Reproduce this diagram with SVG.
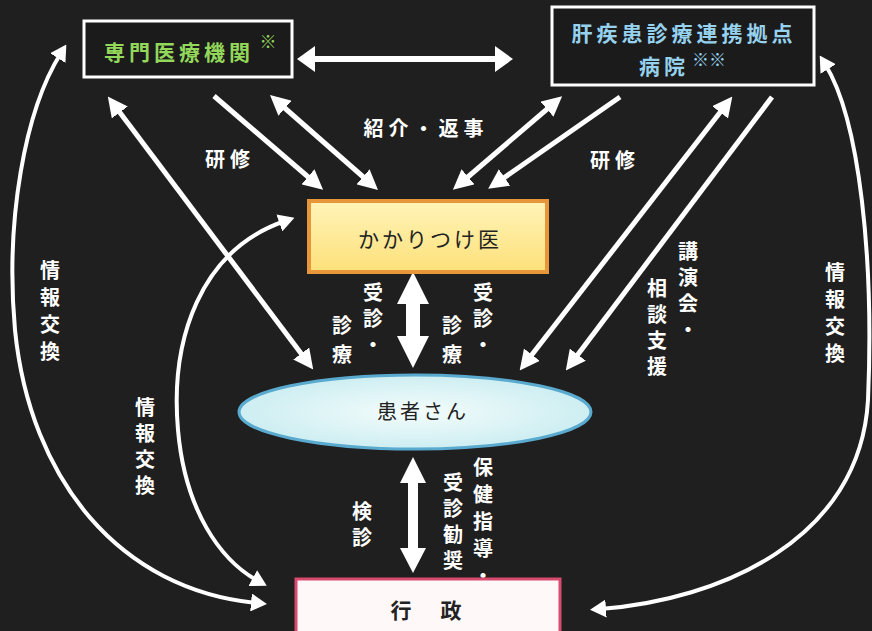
<svg xmlns="http://www.w3.org/2000/svg" width="872" height="631" viewBox="0 0 872 631">
<style>
.t{font-family:"Noto Sans CJK JP","Noto Sans",sans-serif;text-anchor:middle}
.lbl{font-size:20px;font-weight:bold;fill:#fff}
.v{font-family:"Noto Sans CJK JP","Noto Sans",sans-serif;font-size:20px;font-weight:bold;fill:#fff;writing-mode:vertical-rl;text-anchor:start;letter-spacing:6px}
.ln{stroke:#fff;fill:none}
.d{stroke-width:5}
.c{stroke-width:4}
</style>
<defs>
<marker id="ah" viewBox="0 0 20 20" refX="8" refY="10" markerWidth="20" markerHeight="20" markerUnits="userSpaceOnUse" orient="auto-start-reverse"><path d="M0,0 L20,10 L0,20 z" fill="#fff"/></marker>
<marker id="ahw" viewBox="0 0 18 26" refX="6" refY="13" markerWidth="18" markerHeight="26" markerUnits="userSpaceOnUse" orient="auto-start-reverse"><path d="M0,0 L18,13 L0,26 z" fill="#fff"/></marker>
<marker id="ahc" viewBox="0 0 16 18" refX="6" refY="9" markerWidth="16" markerHeight="18" markerUnits="userSpaceOnUse" orient="auto-start-reverse"><path d="M0,0 L16,9 L0,18 z" fill="#fff"/></marker>
<linearGradient id="yel" x1="0" y1="0" x2="0" y2="1"><stop offset="0" stop-color="#fff4b8"/><stop offset="1" stop-color="#fde07a"/></linearGradient>
<radialGradient id="cy" cx="0.5" cy="0.5" r="0.5"><stop offset="0" stop-color="#f4fcfb"/><stop offset="1" stop-color="#cdeef2"/></radialGradient>
</defs>
<rect x="0" y="0" width="872" height="631" fill="#1f1f1f"/>

<g id="connectors">
<line class="ln" x1="309" y1="59" x2="501" y2="59" stroke-width="6" marker-start="url(#ahw)" marker-end="url(#ahw)"/>
<line class="ln d" x1="214" y1="96" x2="314" y2="182" marker-end="url(#ah)"/>
<line class="ln d" x1="279" y1="103" x2="369" y2="182" marker-start="url(#ah)" marker-end="url(#ah)"/>
<line class="ln d" x1="462" y1="182" x2="553" y2="104" marker-start="url(#ah)" marker-end="url(#ah)"/>
<line class="ln d" x1="620" y1="97" x2="498" y2="182" marker-end="url(#ah)"/>
<line class="ln d" x1="115" y1="106" x2="306" y2="360" marker-start="url(#ah)" marker-end="url(#ah)"/>
<line class="ln d" x1="725" y1="106" x2="527" y2="361" marker-start="url(#ah)" marker-end="url(#ah)"/>
<line class="ln d" x1="772" y1="97" x2="573" y2="361" marker-end="url(#ah)"/>
<path class="ln c" d="M 257 603 C 120 590, 30 480, 15 330 C 5 220, 25 110, 61 53" marker-start="url(#ahc)" marker-end="url(#ahc)"/>
<path class="ln c" d="M 285 221 C 200 250, 170 340, 178 430 C 185 510, 220 560, 258 581" marker-start="url(#ahc)" marker-end="url(#ahc)"/>
<path class="ln c" d="M 600 609 C 720 600, 860 540, 868 400 C 874 260, 860 120, 825 64" marker-start="url(#ahc)" marker-end="url(#ahc)"/>
<polygon fill="#fff" points="413,272 429,304 420,304 420,336 429,336 413,368 397,336 406,336 406,304 397,304"/>
<polygon fill="#fff" points="413,457 426,483 418,483 418,548 426,548 413,573 400,548 408,548 408,483 400,483"/>
</g>

<g id="labels">
<text class="t lbl" x="230" y="167" letter-spacing="5">研修</text>
<text class="t lbl" x="426" y="136" letter-spacing="5">紹介・返事</text>
<text class="t lbl" x="615" y="168" letter-spacing="5">研修</text>
<text class="v" x="50" y="260" style="letter-spacing:7px">情報交換</text>
<text class="v" x="145" y="397">情報交換</text>
<text class="v" x="835" y="262" style="letter-spacing:7px">情報交換</text>
<text class="v" x="688" y="241">講演会・</text>
<text class="v" x="657" y="278">相談支援</text>
<text class="v" x="373" y="282">受診・</text>
<text class="v" x="342" y="315" style="letter-spacing:9px">診療</text>
<text class="v" x="483" y="282">受診・</text>
<text class="v" x="452" y="315" style="letter-spacing:9px">診療</text>
<text class="v" x="362" y="501">検診</text>
<text class="v" x="483" y="457" style="letter-spacing:7px">保健指導・</text>
<text class="v" x="453" y="472">受診勧奨</text>
</g>

<g id="node-senmon">
<rect x="84" y="21" width="208" height="56" fill="#1b1b1b" stroke="#fff" stroke-width="3"/>
<text class="t" x="179" y="60" font-size="21" font-weight="bold" fill="#93d85a" letter-spacing="4">専門医療機関</text>
<text class="t" x="268" y="48" font-size="17" font-weight="bold" fill="#93d85a">※</text>
</g>

<g id="node-kyoten">
<rect x="552" y="7" width="262" height="78" fill="#1b1b1b" stroke="#fff" stroke-width="3"/>
<text class="t" x="684" y="41" font-size="21" font-weight="bold" fill="#96d2ee" letter-spacing="4">肝疾患診療連携拠点</text>
<text class="t" x="664" y="74" font-size="21" font-weight="bold" fill="#96d2ee" letter-spacing="4">病院</text>
<text class="t" x="709" y="66" font-size="17" font-weight="bold" fill="#96d2ee">※※</text>
</g>

<g id="node-kakaritsuke">
<rect x="309" y="201" width="238" height="71" fill="url(#yel)" stroke="#e8963a" stroke-width="4"/>
<text class="t" x="430" y="247" font-size="21" fill="#222" letter-spacing="3">かかりつけ医</text>
</g>

<g id="node-kanja">
<ellipse cx="415" cy="412" rx="176" ry="37" fill="url(#cy)" stroke="#5aaad0" stroke-width="3"/>
<text class="t" x="423" y="419" font-size="20" fill="#222" letter-spacing="3">患者さん</text>
</g>

<g id="node-gyosei">
<rect x="296" y="579" width="264" height="62" fill="#fff8f8" stroke="#d84a6e" stroke-width="3"/>
<text class="t" font-size="21" font-weight="bold" fill="#222"><tspan x="401" y="618">行</tspan><tspan x="451" y="618">政</tspan></text>
</g>
</svg>
